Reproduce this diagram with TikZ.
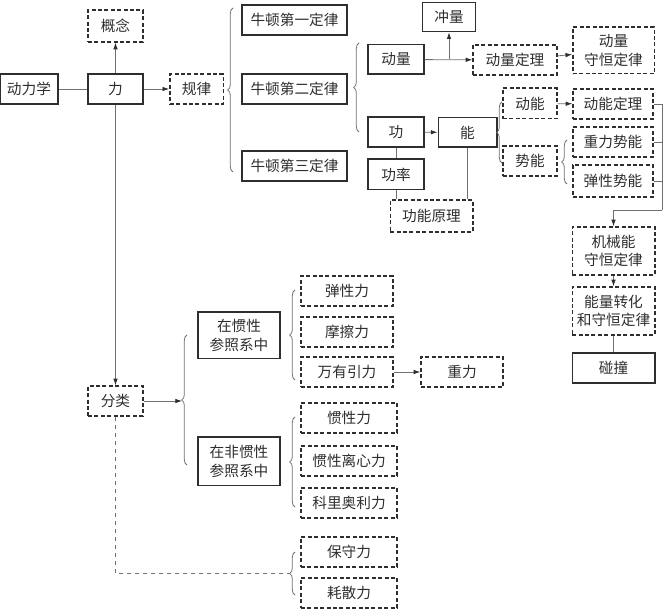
\documentclass[tikz,border=0pt]{standalone}
\usepackage{fontspec}
\newfontfamily\cjk{Noto Sans CJK SC}
\usetikzlibrary{decorations.pathreplacing,arrows.meta}
\definecolor{inkgray}{HTML}{2E2E2E}
\definecolor{linegray}{HTML}{707070}
\tikzset{
  box/.style={draw=inkgray, line width=1pt, text=inkgray, inner sep=0pt, align=center,
    font=\cjk\fontsize{11}{14}\selectfont, minimum height=22.5pt},
  dbox/.style={box, dash pattern=on 3pt off 1.8pt},
  link/.style={draw=linegray, line width=0.6pt},
  brc/.style={draw=linegray, line width=0.6pt, decorate, decoration={brace, amplitude=4pt}},
  >={Latex[length=5pt,width=3.4pt,color=inkgray]}
}
\begin{document}
\begin{tikzpicture}[x=0.75pt,y=-0.75pt]
  \useasboundingbox (0,0) rectangle (665,609);
  % top-left
  \node[box, minimum width=43.5pt] (dlx) at (29,89) {动力学};
  \node[box, minimum width=41.25pt] (li) at (115.5,89) {力};
  \node[dbox, minimum width=41.25pt, minimum height=24pt] (gn) at (115.5,26) {概念};
  \node[dbox, minimum width=40pt] (gl) at (196.5,89) {规律};
  % Newton's laws
  \node[box, minimum width=78.75pt] (nd1) at (294.5,20) {牛顿第一定律};
  \node[box, minimum width=78.75pt] (nd2) at (294.5,89) {牛顿第二定律};
  \node[box, minimum width=78.75pt] (nd3) at (294.5,166) {牛顿第三定律};
  % momentum
  \node[box, minimum width=42pt, minimum height=22pt] (dl) at (396,59.5) {动量};
  \node[box, minimum width=40pt, minimum height=22pt] (cl) at (449,17) {冲量};
  \node[dbox, minimum width=63pt] (dldl) at (515,60) {动量定理};
  \node[dbox, minimum width=61pt, minimum height=35pt] (dlsh) at (613.5,50.5) {动量\\守恒定律};
  % work and energy
  \node[box, minimum width=42pt] (gong) at (396,132) {功};
  \node[box, minimum width=42pt, minimum height=23pt] (gongl) at (396,174.5) {功率};
  \node[box, minimum width=44pt, minimum height=22pt] (neng) at (467.5,132.5) {能};
  \node[dbox, minimum width=62pt, minimum height=24pt] (gnyl) at (431.5,216) {功能原理};
  \node[dbox, minimum width=40.5pt, minimum height=23pt] (dn) at (530,103.5) {动能};
  \node[dbox, minimum width=40.5pt] (sn) at (530,161) {势能};
  \node[dbox, minimum width=60pt] (dndl) at (613,104) {动能定理};
  \node[dbox, minimum width=60pt] (zlsn) at (613,142) {重力势能};
  \node[dbox, minimum width=60pt, minimum height=24pt] (txsn) at (613,181) {弹性势能};
  \node[dbox, minimum width=62pt, minimum height=36pt] (jxn) at (613.5,251) {机械能\\守恒定律};
  \node[dbox, minimum width=62pt, minimum height=36pt] (nlzh) at (613.5,311) {能量转化\\和守恒定律};
  \node[box, minimum width=62pt] (pz) at (613.5,368) {碰撞};
  % classification of forces
  \node[dbox, minimum width=41.25pt] (fl) at (115.5,401) {分类};
  \node[box, minimum width=61.5pt, minimum height=35pt] (gx) at (239,335.5) {在惯性\\参照系中};
  \node[box, minimum width=61.5pt, minimum height=36.5pt] (fgx) at (239,461.5) {在非惯性\\参照系中};
  \node[dbox, minimum width=69pt] (txl) at (347,291) {弹性力};
  \node[dbox, minimum width=69pt] (mcl) at (347,332) {摩擦力};
  \node[dbox, minimum width=69pt] (wyyl) at (347,372) {万有引力};
  \node[dbox, minimum width=61.5pt] (zl) at (462,372) {重力};
  \node[dbox, minimum width=72pt] (gxl) at (349,418) {惯性力};
  \node[dbox, minimum width=72pt] (gxlxl) at (349,461) {惯性离心力};
  \node[dbox, minimum width=72pt] (klal) at (349,503) {科里奥利力};
  \node[dbox, minimum width=72pt] (bsl) at (349,552) {保守力};
  \node[dbox, minimum width=72pt] (hsl) at (349,593) {耗散力};
  % braces
  \draw[brc] (233,172) -- (233,8);
  \draw[brc] (359,132) -- (359,43);
  \draw[brc] (502,163) -- (502,102);
  \draw[brc] (567,184) -- (567,140);
  \draw[brc] (187,465) -- (187,335);
  \draw[brc] (295,380) -- (295,290);
  \draw[brc] (295,507) -- (295,417);
  \draw[brc] (295,595) -- (295,552);
  \coordinate (fltip) at (182,401);
  \coordinate (cstip) at (290,573);
  \coordinate (rt) at (662,210);
  % connectors
  \draw[link] (dlx) -- (li);
  \draw[link,->] (li) -- (gn);
  \draw[link,->] (li) -- (gl);
  \draw[link,->] (dl) -- (dldl);
  \draw[link,->] (cl.south |- dl.east) -- (cl);
  \draw[link,->] (dldl) -- (dlsh);
  \draw[link,->] (gong) -- (neng);
  \draw[link] (gong) -- (gongl);
  \draw[link] (gongl.south) -- (gongl.south |- gnyl.north);
  \draw[link] (neng.south) -- (neng.south |- gnyl.north);
  \draw[link,->] (dn) -- (dndl);
  \draw[link] (dndl.east) -- (rt |- dndl.east) -- (rt);
  \draw[link] (zlsn.east) -- (rt |- zlsn.east);
  \draw[link] (txsn.east) -- (rt |- txsn.east);
  \draw[link,->] (rt) -| (jxn.north);
  \draw[link,->] (jxn) -- (nlzh);
  \draw[link] (nlzh) -- (pz);
  \draw[link,->] (li) -- (fl);
  \draw[link,->] (fl) -- (fltip);
  \draw[link,->] (wyyl) -- (zl);
  \draw[link,dashed] (fl.south) |- (cstip);
\end{tikzpicture}
\end{document}
